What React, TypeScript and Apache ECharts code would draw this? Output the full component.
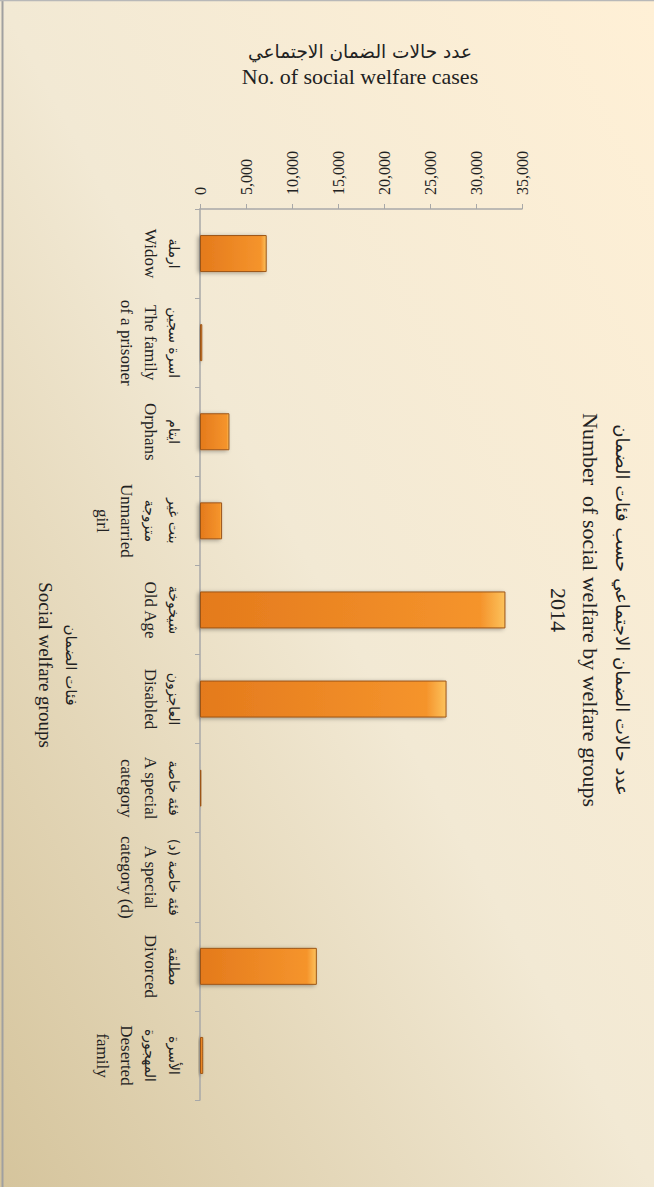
import React, { useEffect, useRef } from "react";
import * as echarts from "echarts";

const categories = [
  "ارملة\nWidow",
  "اسرة سجين\nThe family\nof a prisoner",
  "ايتام\nOrphans",
  "بنت غير\nمتزوجة\nUnmarried\ngirl",
  "شيخوخة\nOld Age",
  "العاجزون\nDisabled",
  "فئة خاصة\nA special\ncategory",
  "فئة خاصة (د)\nA special\ncategory (d)",
  "مطلقة\nDivorced",
  "الأسرة\nالمهجورة\nDeserted\nfamily",
];
const cases = [7250, 250, 3200, 2400, 33200, 26800, 150, 30, 12700, 350];

const titleLines = [
  "عدد حالات الضمان الاجتماعي حسب فئات الضمان",
  "Number  of social welfare by welfare groups",
  "2014",
];
const valueAxisTitle = ["عدد حالات الضمان الاجتماعي", "No. of social welfare cases"];
const categoryAxisTitle = ["فئات الضمان", "Social welfare groups"];

const FONT = "'Liberation Serif', 'DejaVu Serif', serif";
const AR_FONT = "'DejaVu Sans', 'Noto Sans', sans-serif";

const isArabic = (s: string) => /[\u0600-\u06FF]/.test(s);
const toRich = (text: string) =>
  text
    .split("\n")
    .map((l) => (isArabic(l) ? `{ar|${l}}` : `{en|${l}}`))
    .join("\n");

export default function App() {
  const ref = useRef<HTMLDivElement>(null);
  useEffect(() => {
    document.body.style.margin = "0";
    const chart = echarts.init(ref.current!, undefined, { renderer: "svg" });
    const rich = (ar: number, en: number, lh: number) => ({
      ar: { fontFamily: AR_FONT, fontSize: ar, lineHeight: lh, color: "#222" },
      en: { fontFamily: FONT, fontSize: en, lineHeight: lh, color: "#222" },
    });
    chart.setOption({
      animation: false,
      backgroundColor: {
        type: "linear",
        x: 1,
        y: 0,
        x2: 0,
        y2: 1,
        colorStops: [
          { offset: 0, color: "#fff0d6" },
          { offset: 0.5, color: "#f2e9d4" },
          { offset: 1, color: "#d5c49c" },
        ],
      },
      grid: { left: 200, top: 209, right: 132, bottom: 87, containLabel: false },
      xAxis: {
        type: "value",
        position: "top",
        min: 0,
        max: 35000,
        interval: 5000,
        axisLine: { show: true, lineStyle: { color: "#a8a8a8", width: 1.5 } },
        axisTick: { show: true, length: 5, lineStyle: { color: "#a8a8a8" } },
        splitLine: { show: false },
        axisLabel: {
          rotate: -90,
          fontFamily: FONT,
          fontSize: 16,
          color: "#222",
          margin: 14,
          formatter: (v: number) => v.toLocaleString("en-US"),
        },
      },
      yAxis: {
        type: "category",
        inverse: true,
        data: categories,
        axisLine: { show: true, lineStyle: { color: "#a8a8a8", width: 1.5 } },
        axisTick: { show: true, length: 5, alignWithLabel: false, lineStyle: { color: "#a8a8a8" } },
        axisLabel: {
          rotate: -90,
          interval: 0,
          fontFamily: FONT,
          fontSize: 17,
          lineHeight: 24,
          color: "#222",
          margin: 14,
          formatter: (v: string) => toRich(v),
          rich: rich(14, 17, 24),
        },
      },
      series: [
        {
          type: "bar",
          data: cases,
          barWidth: 37,
          itemStyle: {
            color: {
              type: "linear",
              x: 0,
              y: 0,
              x2: 1,
              y2: 0,
              colorStops: [
                { offset: 0, color: "#e47a1c" },
                { offset: 0.92, color: "#f5942c" },
                { offset: 1, color: "#fcc25c" },
              ],
            },
            borderColor: "#9c5518",
            borderWidth: 1,
            shadowColor: "rgba(0,0,0,0.35)",
            shadowBlur: 4,
            shadowOffsetX: -2,
            shadowOffsetY: 1,
          },
        },
      ],
      graphic: [
        {
          type: "text",
          x: 590,
          y: 610,
          rotation: -Math.PI / 2,
          style: {
            text: toRich(titleLines.join("\n")),
            rich: rich(18, 22, 32),
            fill: "#222",
            align: "center",
            verticalAlign: "middle",
          },
        },
        {
          type: "text",
          x: 360,
          y: 64,
          style: {
            text: toRich(valueAxisTitle.join("\n")),
            rich: rich(18.5, 22, 25),
            fill: "#222",
            align: "center",
            verticalAlign: "middle",
          },
        },
        {
          type: "text",
          x: 58,
          y: 665,
          rotation: -Math.PI / 2,
          style: {
            text: toRich(categoryAxisTitle.join("\n")),
            rich: rich(15, 19, 26),
            fill: "#222",
            align: "center",
            verticalAlign: "middle",
          },
        },
        {
          type: "line",
          shape: { x1: 2.5, y1: 0, x2: 2.5, y2: 1187 },
          style: { stroke: "#a0a0a0", lineWidth: 2 },
        },
        {
          type: "line",
          shape: { x1: 0, y1: 0.5, x2: 654, y2: 0.5 },
          style: { stroke: "#b8b8b8", lineWidth: 1.5 },
        },
      ],
    });
    return () => chart.dispose();
  }, []);
  return (
    <div
      ref={ref}
      style={{ position: "absolute", left: 0, top: 0, width: 654, height: 1187 }}
    />
  );
}
